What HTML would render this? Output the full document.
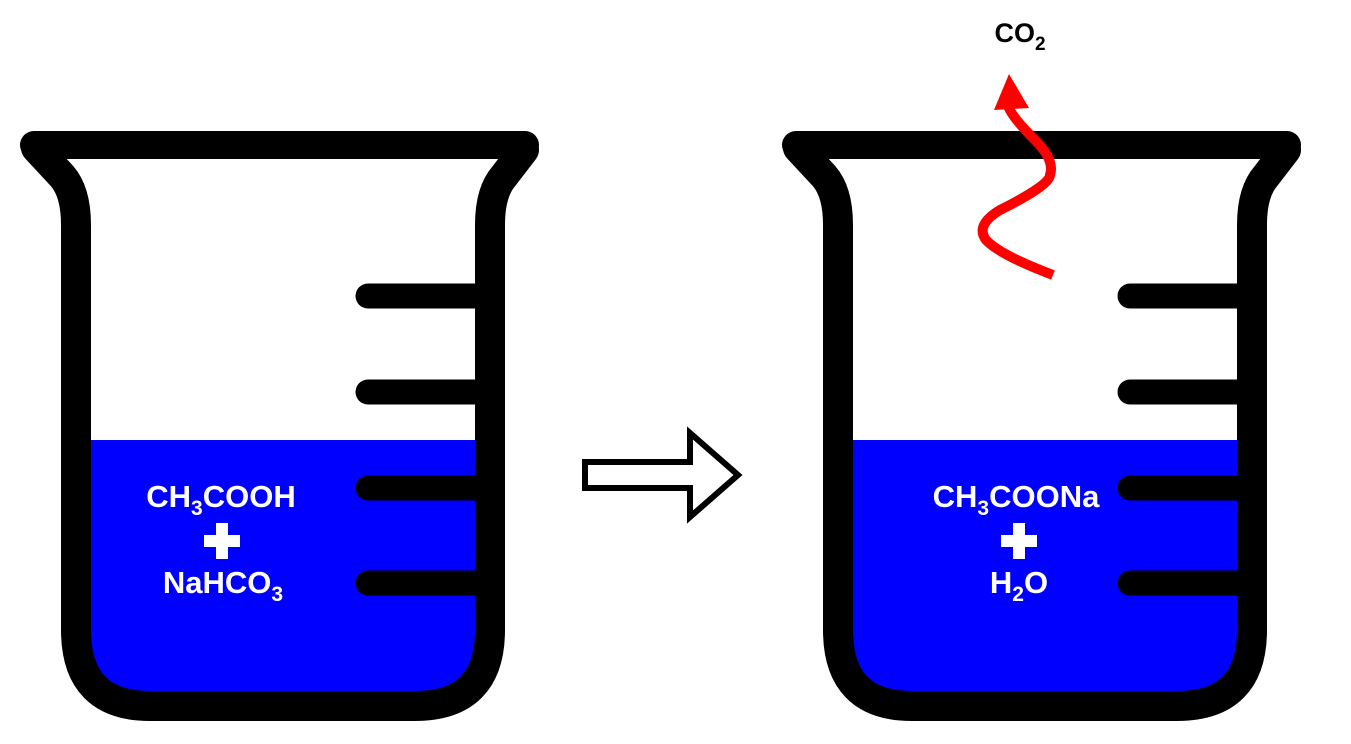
<!DOCTYPE html>
<html><head><style>
html,body{margin:0;padding:0;background:#fff;}
svg{display:block;}
text{font-family:"Liberation Sans",sans-serif;font-weight:bold;}
</style></head><body>
<svg width="1351" height="744" viewBox="0 0 1351 744" xmlns="http://www.w3.org/2000/svg">
<defs>
<g id="beaker">
  <path d="M85 440 H480 V640 Q480 695 420 695 H150 Q85 695 85 640 Z" fill="#0000ff"/>
  <path d="M36 148 L62 176 Q76 192 76 225 L76 630 Q76 706 150 706 L415 706 Q490 706 490 630 L490 225 Q490 192 504 176 L524 150" fill="none" stroke="#000" stroke-width="30" stroke-linejoin="round" stroke-linecap="round"/>
  <line x1="34" y1="145" x2="525" y2="145" stroke="#000" stroke-width="28" stroke-linecap="round"/>
  <g stroke="#000" stroke-width="25" stroke-linecap="round">
    <line x1="368" y1="296" x2="480" y2="296"/>
    <line x1="368" y1="392" x2="480" y2="392"/>
    <line x1="368" y1="488" x2="480" y2="488"/>
    <line x1="368" y1="583" x2="480" y2="583"/>
  </g>
</g>
</defs>
<use href="#beaker"/>
<use href="#beaker" x="762"/>

<g fill="#fff" font-size="31" text-anchor="middle">
  <text x="221" y="507">CH<tspan font-size="21" dy="8">3</tspan><tspan dy="-8">COOH</tspan></text>
  <text x="223" y="593">NaHCO<tspan font-size="21" dy="8">3</tspan></text>
  <text x="1016" y="507">CH<tspan font-size="21" dy="8">3</tspan><tspan dy="-8">COONa</tspan></text>
  <text x="1019" y="593">H<tspan font-size="21" dy="8">2</tspan><tspan dy="-8">O</tspan></text>
</g>
<g fill="#fff">
  <rect x="204" y="535" width="36" height="12"/><rect x="216" y="523" width="12" height="36"/>
  <rect x="1001" y="535" width="36" height="12"/><rect x="1013" y="523" width="12" height="36"/>
</g>

<path d="M585 462 H690 V433 L738 475 L690 517 V488 H585 Z" fill="#fff" stroke="#000" stroke-width="6" stroke-linejoin="miter"/>

<text x="1020" y="42" font-size="27" fill="#000" text-anchor="middle">CO<tspan font-size="19" dy="8">2</tspan></text>
<path d="M1053 275 Q1000 255 986 240 Q975 225 1000 210 Q1050 185 1050 175 Q1055 160 1035 140 Q1010 115 1008 105" fill="none" stroke="#ff0000" stroke-width="10"/>
<polygon points="1009,74 994,110 1029,108" fill="#ff0000"/>
</svg>
</body></html>
